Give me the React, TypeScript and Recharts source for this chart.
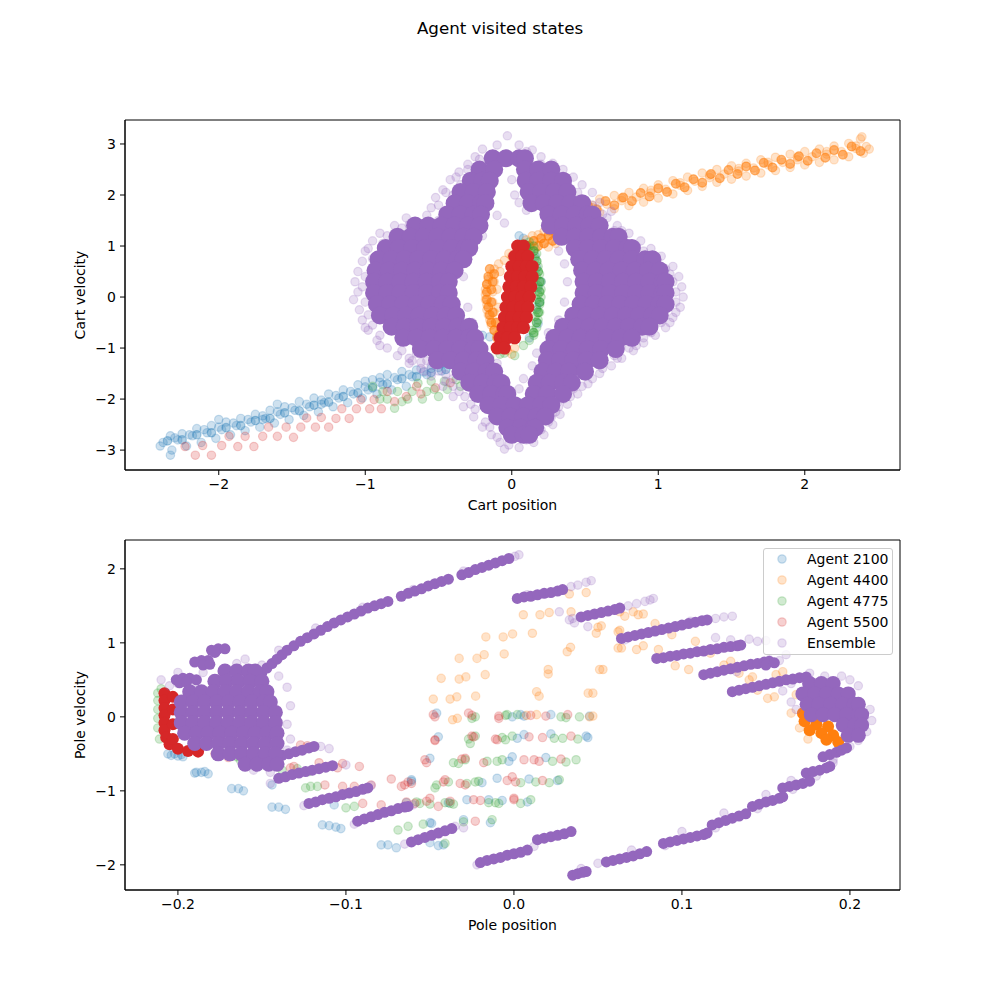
import React from 'react';
import { ScatterChart, Scatter, XAxis, YAxis, ReferenceArea, Legend } from 'recharts';

const FONT = '"DejaVu Sans", sans-serif';
const BLUE = '#1f77b4';
const ORANGE = '#ff7f0e';
const GREEN = '#2ca02c';
const RED = '#d62728';
const PURPLE = '#9467bd';

type P = [number, number];
type Row = [number, number[]];

// ---------------- Top panel: cart position vs cart velocity ----------------
const cartTicksX = [-2, -1, 0, 1, 2];
const cartTicksY = [-3, -2, -1, 0, 1, 2, 3];

const cartBlue: P[] = [
  [-2.33,-2.72],[-2.25,-2.68],[-2.15,-2.58],[-2.05,-2.52],[-1.95,-2.45],[-1.85,-2.38],[-1.75,-2.3],[-1.65,-2.22],[-1.55,-2.15],[-1.45,-2.05],[-1.35,-1.98],[-1.25,-1.9],[-1.15,-1.82],[-1.05,-1.72],[-0.95,-1.62],[-0.85,-1.52],[-0.75,-1.46],[-0.65,-1.43],[-0.55,-1.4],[-0.45,-1.3],[-0.35,-1.2],
  [-2.38,-2.85],[-2.28,-2.8],[-2.18,-2.72],[-2.08,-2.66],[-1.98,-2.6],[-1.88,-2.52],[-1.78,-2.45],[-1.68,-2.38],[-1.58,-2.3],[-1.48,-2.22],[-1.38,-2.15],[-1.28,-2.07],[-1.18,-1.98],[-1.08,-1.9],[-0.98,-1.82],[-0.88,-1.72],[-0.78,-1.62],[-0.68,-1.56],[-0.58,-1.52],[-0.48,-1.45],[-0.38,-1.35],[-0.28,-1.22],[-0.2,-1.05],
  [-2.32,-3.0],[-2.22,-2.92],[-2.12,-2.85],[-2.02,-2.77],[-1.92,-2.7],[-1.82,-2.62],[-1.72,-2.55],[-1.62,-2.47],[-1.52,-2.4],[-1.42,-2.32],[-1.32,-2.25],[-1.22,-2.15],[-1.12,-2.07],[-1.02,-1.98],[-0.92,-1.9],[-0.82,-1.82],[-0.72,-1.75],
  [-2.3,-2.76],[-2.2,-2.7],[-2.1,-2.6],[-2.0,-2.55],[-1.9,-2.47],[-1.8,-2.4],[-1.7,-2.33],[-1.6,-2.25],[-1.5,-2.17],[-1.4,-2.1],[-1.3,-2.02],[-1.2,-1.93],[-1.1,-1.85],[-1.0,-1.76],[-0.9,-1.67],[-0.8,-1.58],[-0.7,-1.52],[-0.6,-1.47],[-0.5,-1.38],[-0.4,-1.28],
  [-2.33,-3.1],[-2.4,-2.92],[-2.0,-2.4],[-1.6,-2.1],[-1.0,-1.65],[-0.9,-1.58],[-1.7,-2.4],[-1.3,-2.1],
  [-0.2,-0.75],[-0.15,-0.78],[0.05,1.2],[0.08,1.15],[0.17,0.57],[0.18,0.18],[0.17,-0.2],[0.18,-0.52],[0.2,0.3],[0.19,-0.1],[0.16,0.8],[0.12,-0.8],[0.1,1.0],
];

const cartBlueDense: P[] = [
  [-2.35,-2.82],[-2.25,-2.8],[-2.15,-2.7],[-2.05,-2.66],[-1.95,-2.56],[-1.85,-2.52],[-1.75,-2.42],[-1.65,-2.38],[-1.55,-2.27],[-1.45,-2.23],[-1.35,-2.12],[-1.25,-2.06],[-1.15,-1.95],[-1.05,-1.88],[-0.95,-1.78],[-0.85,-1.7],[-0.75,-1.6],[-0.65,-1.56],[-0.55,-1.48],[-0.45,-1.42],
];

const cartOrange: P[] = [
  [0.5,1.85],[0.6,1.92],[0.7,1.99],[0.8,2.05],[0.9,2.13],[1.0,2.2],[1.1,2.28],[1.2,2.35],[1.3,2.43],[1.4,2.5],[1.5,2.57],[1.6,2.62],[1.7,2.69],[1.8,2.74],[1.9,2.8],[2.0,2.85],[2.1,2.9],[2.2,2.96],[2.3,3.01],[2.38,3.1],
  [0.45,1.68],[0.55,1.75],[0.65,1.82],[0.75,1.89],[0.85,1.96],[0.95,2.04],[1.05,2.11],[1.15,2.19],[1.25,2.27],[1.35,2.34],[1.45,2.41],[1.55,2.47],[1.65,2.53],[1.75,2.59],[1.85,2.64],[1.95,2.69],[2.05,2.75],[2.15,2.8],[2.25,2.85],[2.35,2.91],[2.42,2.95],
  [0.5,1.59],[0.6,1.66],[0.7,1.73],[0.8,1.79],[0.9,1.86],[1.0,1.94],[1.1,2.02],[1.2,2.09],[1.3,2.17],[1.4,2.25],[1.5,2.31],[1.6,2.37],[1.7,2.43],[1.8,2.48],[1.9,2.54],[2.0,2.59],[2.1,2.64],[2.2,2.69],[2.3,2.75],[2.4,2.82],
  [0.55,1.8],[0.75,1.94],[0.95,2.09],[1.15,2.24],[1.35,2.39],[1.55,2.52],[1.75,2.64],[1.95,2.74],[2.15,2.85],[2.35,2.96],[2.39,3.14],[2.44,2.9],
  [0.3,1.3],[0.26,1.32],[0.22,1.28],[0.18,1.22],[0.25,1.2],[0.2,1.15],[0.15,1.1],[0.28,1.1],[0.22,1.05],[0.12,1.02],[0.16,0.95],[0.08,0.95],[0.25,0.98],[0.04,0.88],[0.0,0.8],[-0.05,0.72],[-0.09,0.65],[-0.12,0.55],[-0.14,0.45],[-0.16,0.35],[-0.17,0.25],[-0.18,0.15],[-0.18,0.05],[-0.18,-0.05],[-0.17,-0.15],[-0.17,-0.25],[-0.16,-0.35],[-0.15,-0.45],[-0.14,-0.55],[-0.12,-0.65],[-0.1,-0.75],[-0.08,-0.85],[-0.06,-0.95],[-0.03,-1.05],[0.0,-1.12],
  [-0.12,0.3],[-0.13,0.1],[-0.13,-0.1],[-0.12,-0.3],[-0.1,-0.5],[-0.08,0.5],[-0.1,0.15],[-0.09,-0.2],[0.02,-1.0],[0.3,1.05],[0.33,1.2],[-0.02,0.85],[0.05,1.02],[0.1,1.12],[0.14,1.2],
];

const cartOrangeDense: P[] = [
  [0.52,1.79],[0.64,1.88],[0.76,1.95],[0.88,2.04],[1.0,2.13],[1.12,2.22],[1.24,2.31],[1.36,2.41],[1.48,2.49],[1.6,2.56],[1.72,2.63],[1.84,2.69],[1.96,2.76],[2.08,2.82],[2.2,2.88],[2.32,2.95],
  [0.58,1.72],[0.7,1.8],[0.82,1.88],[0.94,1.97],[1.06,2.06],[1.18,2.15],[1.3,2.24],[1.42,2.33],[1.54,2.41],[1.66,2.48],[1.78,2.54],[1.9,2.61],[2.02,2.67],[2.14,2.73],[2.26,2.79],[2.38,2.86],
  [-0.15,0.55],[-0.16,0.4],[-0.17,0.25],[-0.17,0.1],[-0.17,-0.05],[-0.16,-0.2],[-0.15,-0.35],[-0.14,-0.5],[-0.12,-0.65],[-0.1,-0.8],[-0.07,-0.95],[-0.12,0.45],[-0.13,0.3],[-0.14,0.15],[-0.14,-0.1],[-0.13,-0.3],[-0.11,-0.5],[-0.08,-0.7],
  [0.15,1.1],[0.2,1.15],[0.25,1.2],[0.22,1.05],[0.18,1.0],[0.28,1.1],[0.12,1.0],[0.3,1.25],[0.26,1.3],
];

const cartGreen: P[] = [
  [-0.88,-1.85],[-0.8,-2.18],[-0.71,-2.0],[-0.61,-2.0],[-0.53,-1.81],[-0.44,-1.81],[-0.85,-2.0],[-0.78,-1.85],[-0.68,-1.85],[-0.58,-1.85],[-0.64,-1.69],[-0.55,-1.65],[-0.46,-1.65],[-0.95,-1.75],[-0.9,-2.0],[-0.75,-2.05],[-0.5,-1.95],[-0.38,-1.62],[-0.32,-1.55],[-0.26,-1.5],[-0.35,-1.75],[-0.2,-1.35],[-0.15,-1.2],
  [0.15,1.0],[0.13,0.9],[0.16,0.75],[0.18,0.6],[0.19,0.45],[0.2,0.3],[0.2,0.15],[0.2,0.0],[0.19,-0.15],[0.19,-0.3],[0.18,-0.45],[0.17,-0.6],[0.15,-0.75],[0.12,-0.85],[0.17,0.85],[0.18,0.22],[0.17,-0.05],[0.16,-0.38],[0.08,1.05],[0.05,0.95],[0.12,1.08],[0.17,0.4],[0.18,0.05],[0.17,-0.25],[0.14,-0.65],[-0.1,-1.0],[-0.05,-1.1],[0.02,-1.15],[0.08,-0.95],[-0.08,-1.12],
];

const cartGreenDense: P[] = [
  [0.15,0.9],[0.17,0.7],[0.18,0.5],[0.19,0.3],[0.19,0.1],[0.19,-0.1],[0.18,-0.3],[0.17,-0.5],[0.15,-0.7],[0.1,1.0],
];

const cartRed: P[] = [
  [-2.16,-3.1],[-2.05,-3.1],[-2.23,-2.93],[-2.11,-2.91],[-1.98,-2.91],[-1.87,-2.93],[-1.76,-2.93],[-1.93,-2.73],[-1.82,-2.73],[-1.7,-2.73],[-1.6,-2.73],[-1.49,-2.75],[-1.66,-2.55],[-1.54,-2.55],[-1.44,-2.55],[-1.34,-2.55],[-1.25,-2.55],[-1.4,-2.37],[-1.3,-2.36],[-1.2,-2.38],[-1.11,-2.38],[-1.16,-2.19],[-1.06,-2.19],[-0.97,-2.19],[-0.89,-2.19],[-1.03,-2.01],[-0.94,-2.01],[-0.8,-2.05],[-0.72,-1.95],[-0.62,-1.9],[-0.52,-1.78],[-0.42,-1.68],[-0.85,-1.85],[-0.65,-1.75],[-0.3,-1.5],[-0.25,-1.3],
];

const cartRedCore: Row[] = [
  [1.0, [0.04, 0.08]],
  [0.8, [0.02, 0.07, 0.11]],
  [0.6, [0.0, 0.05, 0.1, 0.14]],
  [0.4, [-0.01, 0.04, 0.09, 0.14]],
  [0.2, [-0.02, 0.03, 0.08, 0.13]],
  [0.0, [-0.03, 0.02, 0.07, 0.12]],
  [-0.2, [-0.04, 0.01, 0.06, 0.11]],
  [-0.4, [-0.05, 0.0, 0.05, 0.1]],
  [-0.6, [-0.06, -0.01, 0.04, 0.08]],
  [-0.8, [-0.08, -0.03, 0.02]],
  [-1.0, [-0.1, -0.05]],
];

const cartPurple: P[] = [
  [-0.03,3.16],[-0.1,2.98],[0.05,2.98],[-0.2,2.9],[0.14,2.88],[-0.25,2.75],[0.2,2.75],[-0.3,2.6],[0.28,2.62],[-0.36,2.45],[0.35,2.5],[-0.42,2.3],[0.42,2.35],[-0.47,2.1],[0.48,2.2],[-0.52,1.95],[0.55,2.05],[-0.55,1.75],[0.6,1.85],[-0.58,1.6],[-0.72,1.55],[-0.8,1.4],[-0.65,1.45],[-0.9,1.25],[-0.95,1.1],[-1.0,0.9],[-1.02,0.7],[-1.05,0.5],[-1.07,0.3],[-1.05,0.1],[-1.08,-0.05],[-1.04,-0.25],[-1.02,-0.45],[-0.98,-0.65],[-0.92,-0.85],[-0.85,-1.0],[-0.78,-1.15],[-0.7,-1.3],[-0.62,-1.4],[-0.55,-1.55],[-0.47,-1.75],[-0.4,-1.95],[-0.33,-2.15],[-0.26,-2.35],[-0.2,-2.55],[-0.14,-2.7],[-0.08,-2.85],[-0.05,-2.98],[0.05,-2.95],[0.15,-2.85],[0.22,-2.7],[0.28,-2.5],[0.33,-2.3],[0.38,-2.1],[0.45,-1.9],[0.52,-1.7],[0.6,-1.5],[0.68,-1.35],[0.75,-1.2],[0.83,-1.05],[0.9,-0.9],[0.98,-0.75],[1.05,-0.6],[1.1,-0.4],[1.15,-0.2],[1.17,0.0],[1.16,0.2],[1.14,0.4],[1.1,0.6],[1.02,0.8],[0.95,0.95],[0.88,1.1],[0.8,1.25],[0.72,1.4],[0.65,1.55],[0.68,1.68],
  [0.0,2.3],[0.02,2.0],[0.05,1.85],[0.1,1.7],[-0.1,1.6],[-0.05,1.45],[-0.2,1.2],[-0.27,1.0],[-0.32,0.7],[-0.33,0.4],[-0.3,-0.2],[-0.27,-0.5],[0.32,0.9],[0.36,0.65],[0.38,0.3],[0.36,-0.1],[0.32,-0.45],[0.25,-0.7],[0.17,-1.1],[0.14,-1.35],[0.08,-1.6],[0.05,-1.8],[-0.1,-1.3],
  [-0.7,-1.2],[-0.62,-1.28],[-0.55,-1.35],[-0.65,-1.1],[-0.5,-1.45],[-0.45,-1.52],[-0.75,-1.05],[-0.6,-1.45],[-0.4,-1.6],[-0.68,-1.25],[-0.58,-1.25],
  [-0.62,1.3],[-0.5,1.5],[-0.45,1.7],[-0.4,2.0],[-0.35,2.2],[0.45,1.9],[0.5,1.65],[0.6,1.5],[0.7,1.3],[0.85,1.0],[1.0,0.65],[1.08,0.45],[1.12,0.1],[1.12,-0.3],[1.02,-0.5],[0.9,-0.8],[0.8,-1.0],[0.7,-1.15],[0.6,-1.3],[0.5,-1.55],[0.42,-1.8],[0.35,-2.0],[0.3,-2.25],[0.25,-2.45],[-0.15,-2.55],[-0.25,-2.2],[-0.32,-1.95],[-0.4,-1.75],[-0.98,0.95],[-1.0,-0.6],[-0.9,-0.95],[-0.85,1.2],[-0.75,1.35],
  [-1.0,0.4],[-1.02,0.2],[-1.0,-0.1],[-0.98,-0.35],[-0.95,-0.55],[-0.9,-0.75],[-0.95,0.75],[-0.88,1.05],[-0.8,1.25],[-0.7,1.42],[-0.55,1.45],[-0.5,1.8],[-0.45,2.05],[-0.38,2.35],[-0.3,2.5],[-0.22,2.7],[0.1,2.85],[0.2,2.6],[0.3,2.4],[0.38,2.2],[0.45,2.05],[0.55,1.8],[0.62,1.62],
  [1.1,0.3],[1.12,-0.1],[1.08,-0.5],[0.95,-0.7],[1.05,0.55],[0.97,0.75],[0.9,0.9],[0.75,1.3],[0.85,-0.95],[0.72,-1.2],[0.62,-1.4],[0.55,-1.6],[0.48,-1.75],[0.4,-1.95],[0.32,-2.15],[0.27,-2.35],[0.2,-2.6],[0.1,-2.8],[-0.02,-2.9],[-0.1,-2.75],[-0.18,-2.45],[-0.28,-2.1],[-0.36,-1.85],[-0.45,-1.65],
];

const cartPurpleCore: Row[] = [
  [2.72, [-0.13,-0.04,0.05,0.09]],
  [2.5, [-0.22,-0.12,0.09,0.18,0.27]],
  [2.28, [-0.28,-0.2,-0.15,0.095,0.18,0.27,0.35]],
  [2.06, [-0.35,-0.26,-0.17,0.115,0.2,0.29,0.38]],
  [1.84, [-0.39,-0.3,-0.21,-0.18,0.135,0.22,0.31,0.4,0.48]],
  [1.62, [-0.44,-0.35,-0.26,-0.21,0.25,0.34,0.43,0.52,0.55]],
  [1.4, [-0.66,-0.57,-0.48,-0.39,-0.3,-0.22,0.26,0.35,0.44,0.53,0.6]],
  [1.18, [-0.78,-0.69,-0.6,-0.51,-0.42,-0.33,-0.26,0.34,0.43,0.52,0.61,0.69,0.73]],
  [0.96, [-0.86,-0.77,-0.68,-0.59,-0.5,-0.41,-0.32,-0.29,0.43,0.52,0.61,0.7,0.79,0.82]],
  [0.74, [-0.91,-0.82,-0.73,-0.64,-0.55,-0.46,-0.37,-0.33,0.46,0.55,0.64,0.73,0.82,0.91,0.96]],
  [0.52, [-0.93,-0.84,-0.75,-0.66,-0.57,-0.48,-0.39,0.48,0.57,0.66,0.75,0.84,0.93,1.01]],
  [0.3, [-0.94,-0.85,-0.76,-0.67,-0.58,-0.49,-0.43,0.49,0.58,0.67,0.76,0.85,0.94,1.03,1.05]],
  [0.08, [-0.94,-0.85,-0.76,-0.67,-0.58,-0.49,-0.43,0.49,0.58,0.67,0.76,0.85,0.94,1.03,1.05]],
  [-0.14, [-0.92,-0.83,-0.74,-0.65,-0.56,-0.47,-0.41,0.47,0.56,0.65,0.74,0.83,0.92,1.01,1.05]],
  [-0.36, [-0.9,-0.81,-0.72,-0.63,-0.54,-0.45,-0.38,0.42,0.51,0.6,0.69,0.78,0.87,0.96,1.01]],
  [-0.58, [-0.82,-0.73,-0.64,-0.55,-0.46,-0.37,-0.29,0.35,0.44,0.53,0.62,0.71,0.8,0.89,0.94]],
  [-0.8, [-0.74,-0.65,-0.56,-0.47,-0.38,-0.29,-0.25,0.29,0.38,0.47,0.56,0.65,0.74,0.82]],
  [-1.02, [-0.62,-0.53,-0.44,-0.35,-0.26,-0.22,0.25,0.34,0.43,0.52,0.61,0.71]],
  [-1.24, [-0.51,-0.42,-0.33,-0.24,-0.18,0.24,0.33,0.42,0.51,0.6]],
  [-1.46, [-0.35,-0.26,-0.17,-0.12,0.21,0.3,0.39,0.5]],
  [-1.68, [-0.29,-0.2,-0.11,-0.07,0.17,0.26,0.35,0.41]],
  [-1.9, [-0.23,-0.14,-0.05,-0.03,0.15,0.24,0.35]],
  [-2.12, [-0.16,-0.07,0.02,0.11,0.2,0.27]],
  [-2.34, [-0.1,-0.01,0.08,0.17,0.23]],
  [-2.56, [-0.03,0.06,0.15,0.16]],
  [-2.7, [0.0,0.08,0.12]],
];

// ---------------- Bottom panel: pole position vs pole velocity ----------------
const poleTicksX = [-0.2, -0.1, 0, 0.1, 0.2];
const poleTicksY = [-2, -1, 0, 1, 2];
const legendLabels = ['Agent 2100', 'Agent 4400', 'Agent 4775', 'Agent 5500', 'Ensemble'];
const legendColors = [BLUE, ORANGE, GREEN, RED, PURPLE];

const poleBlue: P[] = [
  [-0.206,-0.5],[-0.202,-0.5],[-0.198,-0.51],[-0.204,-0.52],[-0.2,-0.53],[-0.197,-0.54],[-0.19,-0.76],[-0.186,-0.75],[-0.182,-0.77],[-0.189,-0.75],[-0.184,-0.74],[-0.168,-0.97],[-0.164,-0.97],[-0.161,-1.0],[-0.144,-1.22],[-0.14,-1.22],[-0.136,-1.25],[-0.114,-1.46],[-0.11,-1.47],[-0.106,-1.49],[-0.103,-1.51],[-0.079,-1.73],[-0.075,-1.73],[-0.07,-1.77],[-0.05,-1.7],[-0.045,-1.74],
  [-0.144,-0.92],[-0.107,-1.19],[-0.093,-1.41],[-0.061,-0.85],[-0.049,-1.44],[-0.028,-1.12],[-0.015,-1.12],[-0.01,-0.83],[-0.046,0.05],[-0.045,-0.27],[-0.05,-0.56],[-0.001,-0.54],[0.004,0.03],[0.006,0.01],[0.022,0.03],[0.045,0.01],[0.002,-0.29],[0.006,-0.24],[0.022,-0.23],[0.043,-0.26],[-0.003,-0.6],[0.019,-0.55],[-0.019,-0.89],[0.009,-0.84],[0.026,-0.86],[-0.039,-1.16],[-0.007,-1.13],[0.008,-1.15],[-0.05,-1.43],[-0.042,-1.73],[-0.03,-1.39],[-0.014,-1.43],[-0.064,-1.16],[-0.061,-0.87],[-0.001,0.0],[0.044,-0.28],
  [-0.17,0.1],[-0.175,-0.15],[-0.16,0.3],[-0.18,0.0],
];

const poleOrange: P[] = [
  [0.0056,1.38],[0.0155,1.38],[0.021,1.41],[0.034,1.42],[-0.0167,1.08],[-0.0064,1.08],[-0.0008,1.12],[0.011,1.13],[-0.0326,0.79],[-0.022,0.79],[-0.0177,0.84],[-0.0058,0.85],[-0.0433,0.52],[-0.0326,0.51],[-0.0286,0.54],[-0.0171,0.57],[-0.048,0.24],[-0.038,0.24],[-0.034,0.27],[-0.0228,0.28],[-0.0365,-0.04],[-0.0337,-0.02],[0.0204,0.64],[0.0204,0.58],[0.0135,0.34],[0.015,0.28],[0.0317,0.88],[0.0337,0.94],[0.051,0.64],[0.053,0.64],[0.0442,0.32],[0.047,0.32],[0.047,0.01],[0.0135,0.03],[0.049,1.13],[0.052,1.23],[0.062,1.15],[0.062,0.93],[0.033,1.66],[0.043,1.68],[0.045,0.0],[0.05,1.21],[0.063,1.17],[0.066,1.36],[0.074,1.38],[0.077,1.39],[0.073,0.91],[0.077,0.96],[0.064,0.93],[0.063,1.42],[0.071,1.42],[0.084,1.26],[0.086,0.91],[0.094,1.11],[0.096,0.69],[0.104,0.64],[0.108,1.02],[0.117,0.86],[0.129,0.75],[0.134,0.59],[0.142,0.54],[0.145,0.36],[0.151,0.25],[0.156,0.57],[0.16,0.61],[0.155,0.27],[0.174,0.19],[0.168,0.3],[0.165,0.05],[0.17,-0.15],[0.175,-0.3],[0.14,0.5],[0.125,0.7],[0.0075,0.02],
];

const poleOrangeCore: P[] = [
  [0.173,-0.06],[0.18,-0.1],[0.187,-0.13],[0.176,-0.18],[0.183,-0.22],[0.19,-0.25],[0.186,-0.31],[0.193,-0.34],[0.179,0.0],[0.172,0.05],
];

const poleGreen: P[] = [
  [-0.023,0.0],[-0.005,0.02],[0.002,0.03],[0.028,0.0],[0.031,-0.01],[0.039,0.0],
  [-0.027,-0.3],[-0.023,-0.26],[-0.007,-0.28],[-0.001,-0.26],[0.024,-0.29],[0.029,-0.29],[0.038,-0.3],
  [-0.036,-0.62],[-0.029,-0.58],[-0.016,-0.6],[-0.01,-0.6],[0.023,-0.6],[0.031,-0.61],[0.037,-0.58],
  [-0.046,-0.92],[-0.039,-0.88],[-0.028,-0.9],[-0.023,-0.88],[0.004,-0.89],[0.013,-0.88],[0.021,-0.89],[0.027,-0.85],
  [-0.058,-1.15],[-0.05,-1.18],[-0.041,-1.16],[-0.036,-1.18],[-0.015,-1.16],[-0.011,-1.16],[0.004,-1.17],[0.01,-1.12],
  [-0.165,-0.54],[-0.138,-0.72],[-0.124,-0.96],[-0.117,-0.94],[-0.1,-1.23],[-0.095,-1.21],[-0.069,-1.53],[-0.063,-1.48],[-0.041,-1.71],[-0.047,-0.96],[-0.038,-1.17],[-0.033,-0.63],[-0.025,-0.02],[-0.026,-0.36],[-0.021,-0.87],[-0.013,-1.39],[-0.009,-1.17],[-0.007,-0.58],[-0.005,-0.31],[-0.004,0.03],[-0.056,-1.17],
  [-0.163,-0.58],[-0.158,-0.6],[-0.129,-0.7],[-0.122,-0.74],[-0.121,-0.94],[-0.054,-1.45],[-0.03,-1.42],
  [-0.212,0.32],[-0.212,0.22],[-0.212,0.1],[-0.212,-0.02],[-0.212,-0.15],[-0.211,-0.3],[-0.21,0.38],
  [-0.17,-0.3],[-0.165,-0.2],[-0.16,0.0],
];

const poleRed: P[] = [
  [-0.048,0.03],[-0.025,0.02],[-0.009,0.01],[0.01,0.02],[0.019,0.01],[0.032,0.03],
  [-0.047,-0.32],[-0.025,-0.26],[-0.011,-0.3],[0.009,-0.27],[0.017,-0.28],[0.034,-0.26],
  [-0.052,-0.62],[-0.031,-0.57],[-0.018,-0.62],[0.006,-0.58],[0.012,-0.58],[0.015,-0.6],[0.028,-0.57],
  [-0.065,-0.92],[-0.063,-0.88],[-0.042,-0.88],[-0.032,-0.9],[-0.004,-0.86],[0.001,-0.88],[0.017,-0.86],
  [-0.064,-1.15],[-0.052,-1.14],[-0.038,-1.14],[-0.024,-1.12],[-0.02,-1.13],[0.0,-1.12],
  [-0.127,-0.38],[-0.123,-0.39],[-0.116,-0.62],[-0.102,-0.63],[-0.092,-0.67],[-0.1125,-0.92],[-0.095,-0.94],[-0.085,-0.92],[-0.073,-0.84],[-0.067,-0.94],[-0.061,-0.9],[-0.09,-1.17],[-0.079,-1.19],[-0.059,-1.17],[-0.05,-1.1],[-0.045,-1.21],[-0.023,-1.41],[-0.053,-0.58],[-0.029,-0.56],[-0.047,0.0],[-0.027,0.05],[-0.047,-0.31],[-0.024,-0.27],[-0.01,-0.31],[-0.009,-0.02],[-0.041,-0.85],[-0.029,-0.92],[-0.001,-0.81],[0.0,-1.1],[-0.133,-0.69],[-0.102,-0.94],[-0.12,-0.4],[-0.111,-0.67],[-0.131,-0.67],[-0.105,-0.69],
  [-0.178,-0.5],[-0.17,-0.55],[-0.16,-0.6],[-0.15,-0.62],[-0.14,-0.58],
];

const poleRedCore: P[] = [
  [-0.208,0.32],[-0.208,0.22],[-0.208,0.12],[-0.208,0.02],[-0.208,-0.08],[-0.208,-0.18],[-0.207,-0.28],[-0.205,-0.37],[-0.2,-0.43],[-0.194,-0.46],[-0.188,-0.47],[-0.203,0.27],[-0.203,0.1],[-0.203,-0.1],[-0.203,-0.3],
];

const polePurple: P[] = [
  [0.0006,2.17],[0.008,1.65],[0.027,1.42],[0.033,1.31],[0.036,1.27],[0.044,1.22],[0.066,1.04],[0.081,1.58],[0.105,1.29],[0.12,1.07],[0.129,1.04],[0.14,1.05],[0.162,0.84],[0.176,0.59],[0.152,0.77],[0.1325,0.61],[0.034,1.76],[0.038,1.78],[0.043,1.82],[0.046,1.84],[0.068,1.5],[0.073,1.53],[0.078,1.56],[0.083,1.6],[0.035,1.33],[0.12,1.33],[0.125,1.35],[0.13,1.36],[0.145,1.02],[0.15,1.03],[0.155,0.73],[0.158,0.76],
  [0.165,0.45],[0.16,0.35],[0.165,0.2],[0.168,0.1],[0.212,0.1],[0.213,-0.05],[0.21,-0.2],[0.205,-0.32],[0.2,0.5],[0.205,0.42],[0.195,0.55],[0.185,0.55],
  [0.2,-0.4],[0.19,-0.58],[0.18,-0.8],[0.166,-0.98],[0.145,-1.24],[0.12,-1.5],[0.09,-1.74],[0.05,-1.98],[0.165,-0.86],[0.19,-0.62],[0.15,-1.05],[0.125,-1.3],[0.1,-1.55],[0.07,-1.8],[0.04,-2.05],
  [-0.2,0.45],[-0.19,0.42],[-0.14,0.55],[-0.135,0.4],[-0.133,0.15],[-0.135,-0.1],[-0.133,-0.3],[-0.135,-0.45],[-0.145,-0.75],[-0.155,-0.72],[-0.165,0.72],[-0.185,0.6],[-0.205,0.42],[-0.16,0.78],[-0.15,0.7],[-0.2,0.6],[-0.21,0.5],
  [-0.115,-0.4],[-0.11,-0.43],[-0.1,-0.65],[-0.085,-0.93],[-0.06,-1.19],[-0.035,-1.48],[-0.145,-0.9],[-0.125,-1.2],[-0.095,-1.45],[-0.065,-1.72],[-0.022,-2.0],[0.012,-1.75],[-0.03,-1.5],
  [-0.152,0.55],[-0.14,0.9],[-0.118,1.2],[-0.09,1.48],[-0.06,1.72],[-0.03,1.97],[0.003,2.19],
];

const polePurpleStrips: P[] = [
  [-0.15,0.6],[-0.147,0.66],[-0.144,0.72],[-0.141,0.78],[-0.138,0.84],[-0.135,0.9],[-0.131,0.96],[-0.127,1.02],[-0.123,1.07],[-0.119,1.12],[-0.115,1.17],[-0.111,1.22],[-0.107,1.27],[-0.103,1.31],[-0.099,1.35],[-0.095,1.39],[-0.091,1.43],[-0.087,1.47],[-0.083,1.5],[-0.079,1.53],[-0.075,1.56],[-0.067,1.63],[-0.063,1.67],[-0.059,1.7],[-0.055,1.73],[-0.051,1.77],[-0.047,1.8],[-0.043,1.83],[-0.039,1.86],[-0.031,1.92],[-0.027,1.95],[-0.023,1.99],[-0.019,2.02],[-0.015,2.05],[-0.011,2.08],[-0.007,2.11],[-0.003,2.14],
  [0.002,1.6],[0.006,1.62],[0.01,1.63],[0.014,1.65],[0.018,1.67],[0.022,1.68],[0.026,1.7],[0.029,1.72],
  [0.04,1.35],[0.044,1.37],[0.048,1.39],[0.052,1.41],[0.056,1.43],[0.06,1.45],[0.063,1.47],
  [0.064,1.06],[0.068,1.08],[0.072,1.1],[0.076,1.12],[0.08,1.14],[0.084,1.16],[0.088,1.18],[0.092,1.2],[0.096,1.22],[0.1,1.24],[0.104,1.26],[0.108,1.28],[0.112,1.3],[0.115,1.31],
  [0.085,0.79],[0.089,0.8],[0.093,0.82],[0.097,0.83],[0.101,0.85],[0.105,0.86],[0.109,0.88],[0.113,0.89],[0.117,0.91],[0.121,0.92],[0.125,0.94],[0.129,0.95],[0.133,0.96],[0.135,0.97],
  [0.113,0.57],[0.117,0.59],[0.121,0.61],[0.125,0.63],[0.129,0.65],[0.133,0.67],[0.137,0.69],[0.141,0.71],[0.145,0.72],[0.149,0.74],[0.152,0.75],[0.15,0.7],[0.155,0.73],
  [0.13,0.34],[0.134,0.36],[0.138,0.38],[0.142,0.4],[0.146,0.42],[0.15,0.44],[0.154,0.46],[0.158,0.48],[0.162,0.5],[0.166,0.51],[0.17,0.53],[0.174,0.54],
  [0.184,-0.54],[0.188,-0.51],[0.192,-0.48],[0.195,-0.45],[0.198,-0.42],
  [0.174,-0.76],[0.178,-0.74],[0.182,-0.72],[0.186,-0.69],[0.188,-0.67],
  [0.16,-0.96],[0.164,-0.94],[0.168,-0.92],[0.172,-0.9],[0.176,-0.87],
  [0.142,-1.21],[0.146,-1.18],[0.15,-1.15],[0.154,-1.13],[0.158,-1.1],[0.16,-1.08],
  [0.118,-1.46],[0.122,-1.43],[0.126,-1.4],[0.13,-1.37],[0.134,-1.34],[0.138,-1.31],
  [0.089,-1.71],[0.093,-1.69],[0.097,-1.67],[0.101,-1.65],[0.105,-1.63],[0.109,-1.61],[0.113,-1.59],[0.115,-1.57],
  [0.055,-1.96],[0.059,-1.94],[0.063,-1.92],[0.067,-1.9],[0.071,-1.88],[0.075,-1.85],[0.079,-1.82],
  [0.035,-2.14],[0.038,-2.12],[0.041,-2.1],[0.043,-2.09],
  [0.014,-1.66],[0.018,-1.64],[0.022,-1.62],[0.026,-1.6],[0.03,-1.58],[0.034,-1.55],
  [-0.02,-1.97],[-0.016,-1.94],[-0.012,-1.92],[-0.008,-1.9],[-0.004,-1.87],[0.0,-1.85],[0.004,-1.83],[0.008,-1.8],
  [-0.138,-0.52],[-0.134,-0.5],[-0.13,-0.47],[-0.126,-0.45],[-0.122,-0.42],[-0.119,-0.4],
  [-0.14,-0.83],[-0.136,-0.81],[-0.132,-0.78],[-0.128,-0.76],[-0.124,-0.74],[-0.12,-0.72],[-0.116,-0.7],[-0.112,-0.68],[-0.108,-0.66],
  [-0.122,-1.17],[-0.118,-1.15],[-0.114,-1.12],[-0.11,-1.1],[-0.106,-1.08],[-0.102,-1.05],[-0.098,-1.03],[-0.094,-1.01],[-0.09,-0.98],[-0.087,-0.96],
  [-0.093,-1.41],[-0.089,-1.38],[-0.085,-1.35],[-0.081,-1.32],[-0.077,-1.29],[-0.073,-1.27],[-0.069,-1.24],[-0.065,-1.22],[-0.063,-1.21],
  [-0.061,-1.69],[-0.057,-1.66],[-0.053,-1.63],[-0.049,-1.6],[-0.045,-1.57],[-0.041,-1.54],[-0.037,-1.51],
  [-0.201,0.5],[-0.197,0.52],[-0.193,0.52],[-0.189,0.5],[-0.199,0.46],[-0.195,0.47],
  [-0.19,0.74],[-0.186,0.76],[-0.182,0.76],[-0.185,0.7],[-0.181,0.71],
  [-0.18,0.9],[-0.176,0.92],[-0.172,0.92],[-0.178,0.87],
];

const polePurpleBlob: Row[] = [
  [0.62, [-0.172,-0.165,-0.158,-0.154]],
  [0.48, [-0.178,-0.171,-0.164,-0.157,-0.15]],
  [0.34, [-0.193,-0.186,-0.179,-0.172,-0.165,-0.158,-0.151,-0.147]],
  [0.2, [-0.198,-0.191,-0.184,-0.177,-0.17,-0.163,-0.156,-0.149,-0.145]],
  [0.06, [-0.198,-0.191,-0.184,-0.177,-0.17,-0.163,-0.156,-0.149,-0.142]],
  [-0.08, [-0.198,-0.191,-0.184,-0.177,-0.17,-0.163,-0.156,-0.149,-0.142]],
  [-0.22, [-0.196,-0.189,-0.182,-0.175,-0.168,-0.161,-0.154,-0.147,-0.141]],
  [-0.36, [-0.19,-0.183,-0.176,-0.169,-0.162,-0.155,-0.148,-0.141]],
  [-0.5, [-0.176,-0.169,-0.162,-0.155,-0.148,-0.142]],
  [-0.64, [-0.16,-0.153,-0.146,-0.141]],
  [0.45, [0.176,0.183,0.19]],
  [0.31, [0.172,0.179,0.186,0.193,0.199]],
  [0.17, [0.1745,0.1815,0.1885,0.1955,0.2025,0.205]],
  [0.03, [0.177,0.184,0.191,0.198,0.205,0.207]],
  [-0.11, [0.196,0.203,0.207]],
  [-0.25, [0.199,0.205]],
];

// ---------------- helpers ----------------
const pts = (a: P[]) => a.map(([x, y]) => ({ x, y }));
const rows = (r: Row[]) => r.flatMap(([y, xs]) => xs.map((x) => ({ x, y })));

const dot = (color: string, r: number, op: number, edge: boolean) => (p: any) => {
  if (p == null || p.cx == null || p.cy == null) return <g />;
  return (
    <circle
      cx={p.cx}
      cy={p.cy}
      r={r}
      fill={color}
      fillOpacity={op}
      stroke={edge ? color : 'none'}
      strokeOpacity={op}
      strokeWidth={1.2}
    />
  );
};

const minus = (s: string) => s.replace('-', '\u2212');
const tickStyle = { fontSize: 14, fontFamily: FONT, fill: '#000' };

type Layer = { data: { x: number; y: number }[]; color: string; r: number; op: number; edge: boolean };

function LegendBox() {
  return (
    <div
      style={{
        width: 130,
        height: 107,
        boxSizing: 'border-box',
        border: '1px solid #cccccc',
        borderRadius: 3,
        background: 'rgba(255,255,255,0.8)',
        position: 'relative',
      }}
    >
      <svg width={130} height={107} style={{ position: 'absolute', left: -1, top: -1 }}>
        {legendLabels.map((l, i) => (
          <g key={l}>
            <circle cx={19} cy={11 + 21 * i} r={4.2} fill={legendColors[i]} fillOpacity={0.22} stroke={legendColors[i]} strokeOpacity={0.22} strokeWidth={1.2} />
            <text x={44} y={11 + 21 * i} dy="0.36em" fontSize={14} fontFamily={FONT} fill="#000">
              {l}
            </text>
          </g>
        ))}
      </svg>
    </div>
  );
}

function Panel(props: {
  top: number;
  xDomain: [number, number];
  yDomain: [number, number];
  xTicks: number[];
  yTicks: number[];
  xLabel: string;
  yLabel: string;
  xFmt: (v: number) => string;
  layers: Layer[];
  legend?: boolean;
}) {
  const { top, xDomain, yDomain, xTicks, yTicks, xLabel, yLabel, xFmt, layers, legend } = props;
  return (
    <div style={{ position: 'absolute', left: 0, top, width: 1000, height: 540 }}>
      <ScatterChart width={1000} height={540} margin={{ top: 120, right: 100, bottom: 0, left: 35 }}>
        <XAxis
          type="number"
          dataKey="x"
          domain={xDomain}
          ticks={xTicks}
          interval={0}
          allowDataOverflow
          height={70}
          tickSize={5}
          tickMargin={4}
          tick={tickStyle}
          tickFormatter={xFmt}
          axisLine={{ stroke: '#000', strokeWidth: 1 }}
          tickLine={{ stroke: '#000', strokeWidth: 1 }}
          label={{ value: xLabel, position: 'center', fill: '#000', fontSize: 14, fontFamily: FONT }}
        />
        <YAxis
          type="number"
          dataKey="y"
          domain={yDomain}
          ticks={yTicks}
          interval={0}
          allowDataOverflow
          width={90}
          tickSize={5}
          tickMargin={4}
          tick={tickStyle}
          tickFormatter={(v: number) => minus(String(v))}
          axisLine={{ stroke: '#000', strokeWidth: 1 }}
          tickLine={{ stroke: '#000', strokeWidth: 1 }}
          label={{ value: yLabel, position: 'center', angle: -90, fill: '#000', fontSize: 14, fontFamily: FONT }}
        />
        <ReferenceArea
          x1={xDomain[0]}
          x2={xDomain[1]}
          y1={yDomain[0]}
          y2={yDomain[1]}
          fill="#ffffff"
          fillOpacity={0}
          stroke="#000"
          strokeWidth={1}
          ifOverflow="visible"
        />
        {layers.map((l, i) => (
          <Scatter
            key={i}
            data={l.data}
            fill={l.color}
            shape={dot(l.color, l.r, l.op, l.edge)}
            isAnimationActive={false}
            legendType="none"
          />
        ))}
        {legend ? (
          <Legend
            layout="vertical"
            align="center"
            verticalAlign="middle"
            wrapperStyle={{ left: 763, top: 128, width: 130, height: 107 }}
            content={() => <LegendBox />}
          />
        ) : null}
      </ScatterChart>
    </div>
  );
}

const A = 0.22;

export default function App() {
  const cartLayers: Layer[] = [
    { data: pts(cartBlue), color: BLUE, r: 4.2, op: A, edge: true },
    { data: pts(cartBlueDense), color: BLUE, r: 4.2, op: 0.35, edge: true },
    { data: pts(cartOrange), color: ORANGE, r: 4.2, op: A, edge: true },
    { data: pts(cartOrangeDense), color: ORANGE, r: 4.4, op: 0.55, edge: true },
    { data: pts(cartGreen), color: GREEN, r: 4.2, op: A, edge: true },
    { data: pts(cartGreenDense), color: GREEN, r: 4.4, op: 0.45, edge: true },
    { data: pts(cartRed), color: RED, r: 4.2, op: A, edge: true },
    { data: rows(cartRedCore), color: RED, r: 6.5, op: 1, edge: false },
    { data: pts(cartPurple), color: PURPLE, r: 4.2, op: A, edge: true },
    { data: rows(cartPurpleCore), color: PURPLE, r: 9, op: 1, edge: false },
  ];
  const poleLayers: Layer[] = [
    { data: pts(poleBlue), color: BLUE, r: 4.2, op: A, edge: true },
    { data: pts(poleOrange), color: ORANGE, r: 4.2, op: A, edge: true },
    { data: pts(poleOrangeCore), color: ORANGE, r: 6, op: 1, edge: false },
    { data: pts(poleGreen), color: GREEN, r: 4.2, op: A, edge: true },
    { data: pts(poleRed), color: RED, r: 4.2, op: A, edge: true },
    { data: pts(poleRedCore), color: RED, r: 6, op: 1, edge: false },
    { data: pts(polePurple), color: PURPLE, r: 4.2, op: A, edge: true },
    { data: pts(polePurpleStrips), color: PURPLE, r: 5.5, op: 1, edge: false },
    { data: rows(polePurpleBlob), color: PURPLE, r: 7.5, op: 1, edge: false },
  ];
  return (
    <div style={{ position: 'absolute', left: 0, top: 0, width: 1000, height: 1000, background: '#fff', fontFamily: FONT }}>
      <div style={{ position: 'absolute', left: 0, top: 18, width: 1000, textAlign: 'center', fontSize: 16.7, lineHeight: '20px', color: '#000' }}>
        Agent visited states
      </div>
      <Panel
        top={0}
        xDomain={[-2.64, 2.65]}
        yDomain={[-3.39, 3.47]}
        xTicks={cartTicksX}
        yTicks={cartTicksY}
        xLabel="Cart position"
        yLabel="Cart velocity"
        xFmt={(v: number) => minus(String(v))}
        layers={cartLayers}
      />
      <Panel
        top={420}
        xDomain={[-0.2315, 0.2298]}
        yDomain={[-2.34, 2.39]}
        xTicks={poleTicksX}
        yTicks={poleTicksY}
        xLabel="Pole position"
        yLabel="Pole velocity"
        xFmt={(v: number) => minus(v.toFixed(1))}
        layers={poleLayers}
        legend
      />
    </div>
  );
}
